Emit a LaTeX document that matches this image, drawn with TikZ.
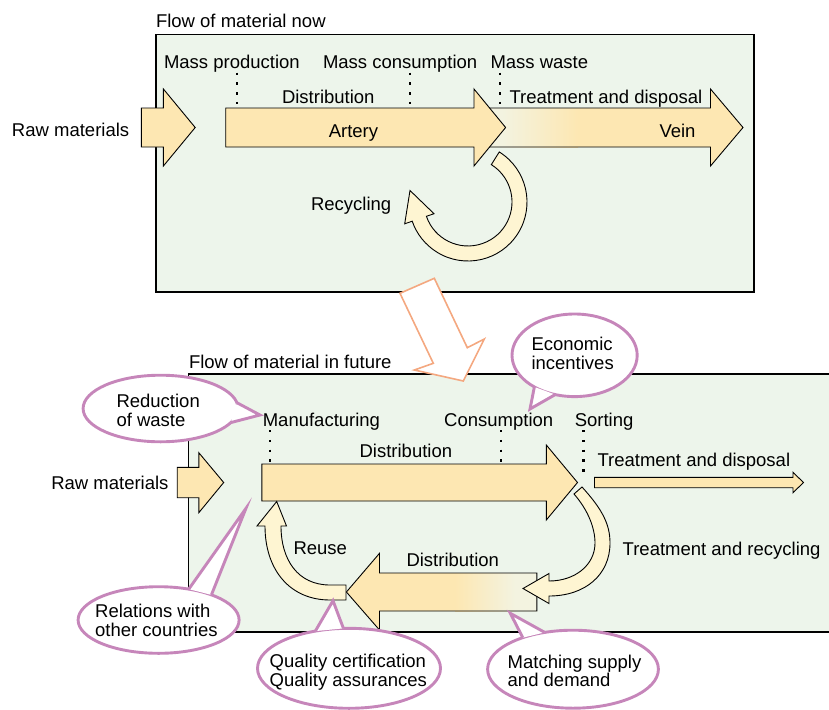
\documentclass[tikz,border=0pt]{standalone}
\usepackage{fontspec}
\setmainfont{Liberation Sans}
\definecolor{bgc}{RGB}{237,245,235}
\definecolor{ayel}{RGB}{253,231,178}
\definecolor{acream}{RGB}{254,245,210}
\definecolor{alight}{RGB}{243,243,224}
\definecolor{orng}{RGB}{244,168,128}
\definecolor{pnk}{RGB}{198,134,186}
\begin{document}
\begin{tikzpicture}[x=1pt,y=-1pt,
  txt/.style={anchor=base west, inner sep=0pt, outer sep=0pt, font=\fontsize{18.5}{22}\selectfont},
  arrowfill/.style={fill=ayel, draw=black, line width=0.9pt, line join=miter},
  creamfill/.style={fill=acream, draw=black, line width=0.9pt, line join=miter},
  boxst/.style={fill=bgc, draw=black, line width=1.1pt},
  dots/.style={line width=2.4pt, dash pattern=on 2.4pt off 7.4pt},
  callell/.style={fill=white, draw=pnk, line width=2.9pt},
  callwedge/.style={fill=white, draw=pnk, line width=2.9pt, line join=miter},
]
\useasboundingbox (0,0) rectangle (829,709);

% ---------- top box ----------
\draw[boxst] (156,34.5) rectangle (754,292);
\node[txt] (tnow) at (156,27.5) {Flow of material now};

% ---------- bottom box ----------
\fill[bgc] (188.5,374) rectangle (829,632);
\draw[line width=1.1pt] (829,374) -- (188.5,374) -- (188.5,632) -- (829,632);
\node[txt] (tfut) at (189,368) {Flow of material in future};

% ---------- orange transition arrow ----------
\draw[draw=orng, fill=white, line width=1.6pt, line join=miter]
  (400,293.3) -- (434.3,278.3) -- (467.3,347.7) -- (484.3,339) -- (463.3,381)
  -- (414.3,370) -- (433.3,363.3) -- cycle;

% ---------- top arrows ----------
% vein
\fill[ayel] (482,108) -- (710.5,108) -- (710.5,89) -- (743,127.5) -- (710.5,166)
  -- (710.5,147) -- (482,147) -- cycle;
\fill[alight] (482,108) rectangle (502,147);
\shade[left color=alight, right color=ayel] (502,108) rectangle (578,147);
\draw[line width=0.9pt, line join=miter] (482,108) -- (710.5,108) -- (710.5,89) -- (743,127.5)
  -- (710.5,166) -- (710.5,147) -- (482,147);
% artery
\draw[arrowfill] (225.7,108) -- (474,108) -- (474,89) -- (505.6,127.5) -- (474,166)
  -- (474,147) -- (225.7,147) -- cycle;
% raw materials
\draw[arrowfill] (141.4,108) -- (163.4,108) -- (163.4,89) -- (195.2,127.5) -- (163.4,166)
  -- (163.4,147) -- (141.4,147) -- cycle;
% recycling
\draw[creamfill] (468,202) ++(-58:59) arc[start angle=-58, end angle=161, radius=59]
  -- (404.7,223.8) -- (410,190.5) -- (434,213.7) -- (426.4,216.3)
  arc[start angle=161, end angle=-58, radius=44] -- cycle;

% top dotted lines
\draw[dots] (236.7,72.5) -- (236.7,105);
\draw[dots] (409.8,72.5) -- (409.8,105);
\draw[dots] (499.9,72.5) -- (499.9,108);

% top texts
\node[txt] (traw) at (12,136.5) {Raw materials};
\node[txt] (tmp) at (164,68) {Mass production};
\node[txt] (tmc) at (323,68) {Mass consumption};
\node[txt] (tmw) at (490.5,68) {Mass waste};
\node[txt] (tdis) at (282,103) {Distribution};
\node[txt] (ttd) at (509.6,103) {Treatment and disposal};
\node[txt] (tart) at (328.8,137) {Artery};
\node[txt] (tvein) at (659.5,137) {Vein};
\node[txt] (trec) at (311,210) {Recycling};

% ---------- bottom arrows ----------
\draw[arrowfill] (177.2,467.3) -- (198.8,467.3) -- (198.8,452.7) -- (223.7,482.5)
  -- (198.8,512.7) -- (198.8,497.7) -- (177.2,497.7) -- cycle;
\draw[arrowfill] (261.8,464) -- (546.3,464) -- (546.3,445) -- (577.5,482.5)
  -- (546.3,520) -- (546.3,501) -- (261.8,501) -- cycle;
\draw[arrowfill] (594.5,477.3) -- (793,477.3) -- (793,472.3) -- (803.5,482.5)
  -- (793,492.7) -- (793,487.7) -- (594.5,487.7) -- cycle;
% lower distribution (gradient)
\fill[ayel] (536.8,573) -- (379.5,573) -- (379.5,553.3) -- (346.4,592) -- (379.5,630)
  -- (379.5,611) -- (536.8,611) -- cycle;
\shade[left color=ayel, right color=alight] (455,573) rectangle (515,611);
\fill[alight] (515,573) rectangle (536.8,611);
\draw[line width=0.9pt, line join=miter] (536.8,573) -- (379.5,573) -- (379.5,553.3) -- (346.4,592)
  -- (379.5,630) -- (379.5,611) -- (536.8,611) -- cycle;
% reuse
\draw[creamfill] (346,585) -- (330,585) .. controls (298,585) and (281,560) .. (281,526)
  -- (286.5,526) -- (276.7,501.5) -- (257,526) -- (265,526)
  .. controls (265,570) and (290,600) .. (330,600) -- (346,600) -- cycle;
% treatment and recycling
\draw[creamfill] (582,487) .. controls (603,510) and (610,525) .. (610,543)
  .. controls (610,575) and (585,596) .. (549,596) -- (549,603.5) -- (523,588.5)
  -- (549,573.5) -- (549,581) .. controls (575,581) and (595,565) .. (595,543)
  .. controls (595,528) and (588,510) .. (574,494) -- cycle;

% bottom dotted lines
\draw[dots] (270.2,430) -- (270.2,462);
\draw[dots] (500.8,430) -- (500.8,462);
\draw[dots] (583.5,430) -- (583.5,473);

% bottom texts
\node[txt] (braw) at (51.3,489) {Raw materials};
\node[txt] (bman) at (262.8,426) {Manufacturing};
\node[txt] (bcon) at (444.2,426) {Consumption};
\node[txt] (bsor) at (574.8,426) {Sorting};
\node[txt] (bdis) at (359.6,457) {Distribution};
\node[txt] (btd) at (597.5,466) {Treatment and disposal};
\node[txt] (btr) at (622.7,555) {Treatment and recycling};
\node[txt] (breu) at (293.5,554) {Reuse};
\node[txt] (bdis2) at (406.5,566.7) {Distribution};

% ---------- callouts ----------
% reduction of waste
\path[callell] (160.6,408.5) ellipse[x radius=77.5, y radius=33.3];
\path[callwedge] ([shift={(-10:77.5 and 33.3)}]160.6,408.5) -- (260,415)
  -- ([shift={(25:77.5 and 33.3)}]160.6,408.5);
\node[txt] (cred1) at (116.5,407.3) {Reduction};
\node[txt] (cred2) at (116.5,426.7) {of waste};
% economic incentives
\path[callell] (574.6,355.3) ellipse[x radius=62.6, y radius=41.3];
\path[callwedge] ([shift={(130:62.6 and 41.3)}]574.6,355.3) -- (530,409)
  -- ([shift={(108:62.6 and 41.3)}]574.6,355.3);
\node[txt] (ceco1) at (531.5,350) {Economic};
\node[txt] (ceco2) at (531.5,369) {incentives};
% relations with other countries
\path[callell] (158.6,620) ellipse[x radius=80.5, y radius=33.3];
\path[callwedge] ([shift={(-68:80.5 and 33.3)}]158.6,620) -- (246,508.3)
  -- ([shift={(-49:80.5 and 33.3)}]158.6,620);
\node[txt] (crel1) at (95.2,617.3) {Relations with};
\node[txt] (crel2) at (95.2,636.7) {other countries};
% quality
\path[callell] (349,668.3) ellipse[x radius=91.5, y radius=40];
\path[callwedge] ([shift={(-111.6:91.5 and 40)}]349,668.3) -- (333,600.7)
  -- ([shift={(-93.5:91.5 and 40)}]349,668.3);
\node[txt] (cqua1) at (269.7,667.3) {Quality certification};
\node[txt] (cqua2) at (269.7,686.7) {Quality assurances};
% matching
\path[callell] (573,669.2) ellipse[x radius=85.4, y radius=39];
\path[callwedge] ([shift={(-126:85.4 and 39)}]573,669.2) -- (510.3,613.3)
  -- ([shift={(-109.3:85.4 and 39)}]573,669.2);
\node[txt] (cmat1) at (507.7,668.3) {Matching supply};
\node[txt] (cmat2) at (507.7,686.7) {and demand};
\end{tikzpicture}
\end{document}
